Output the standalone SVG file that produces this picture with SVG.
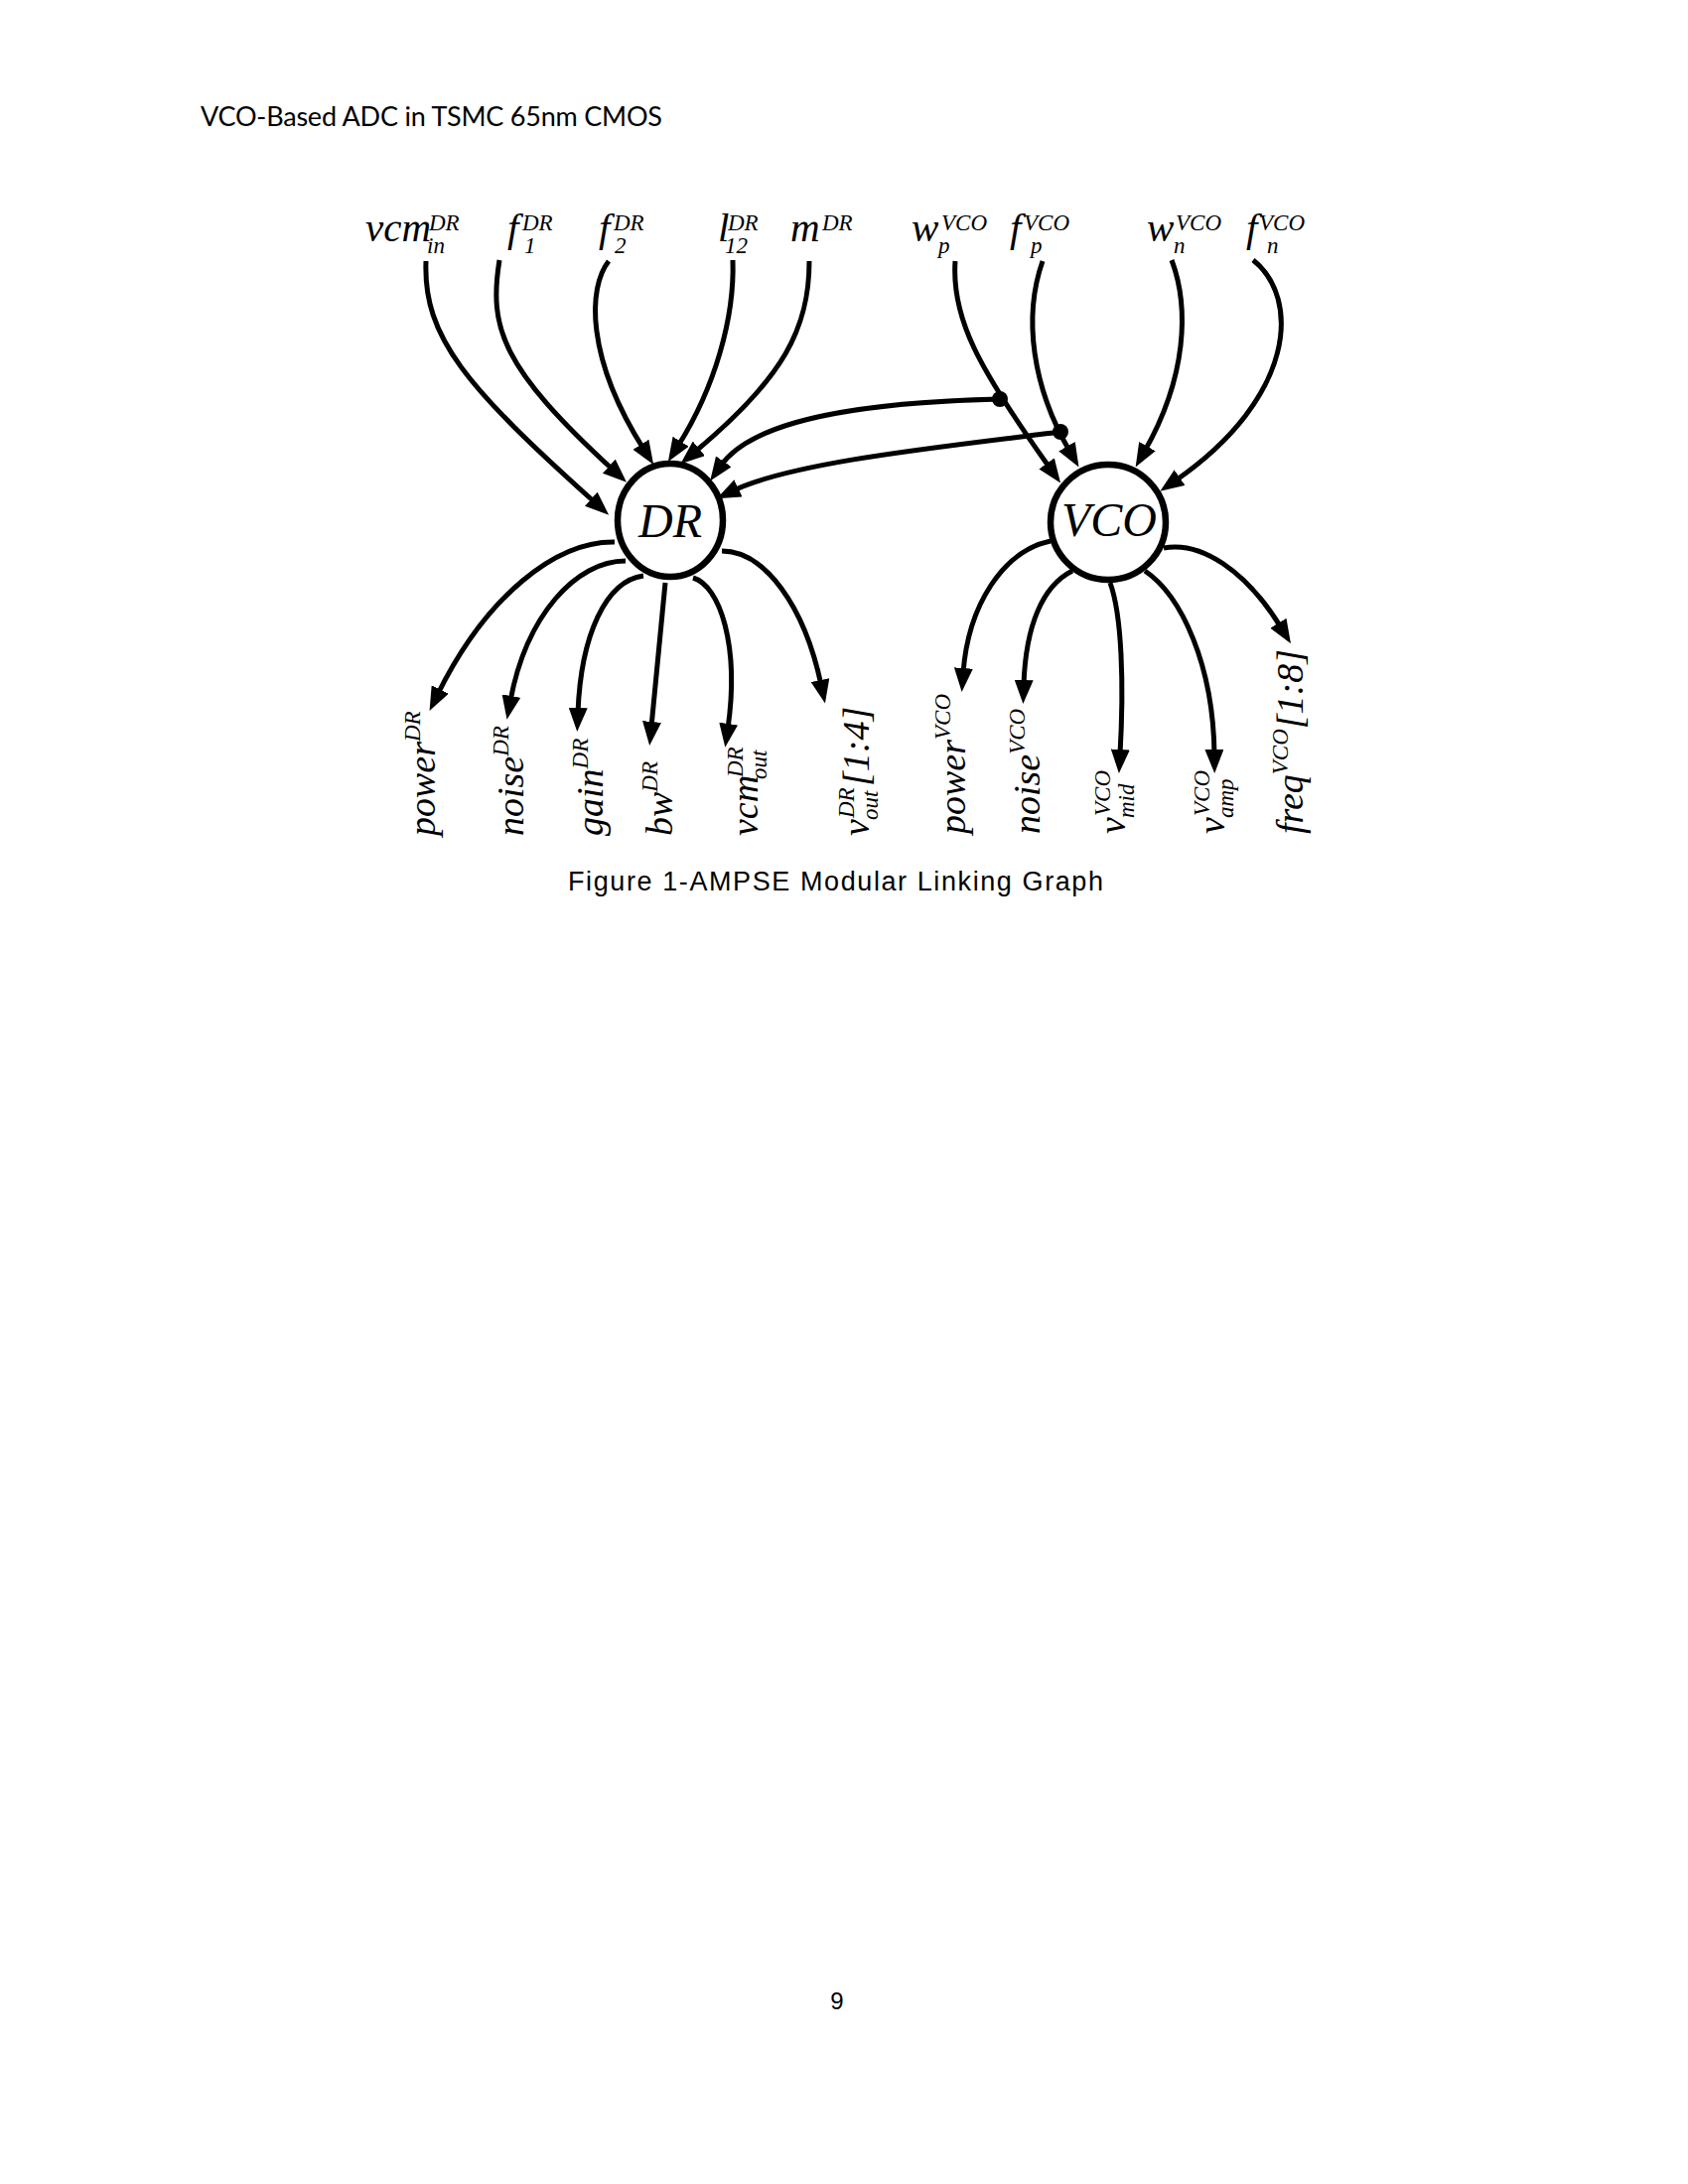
<svg xmlns="http://www.w3.org/2000/svg" width="1700" height="2200" viewBox="0 0 1700 2200">
<style>
.m{font-family:"Liberation Serif","DejaVu Serif",serif;font-style:italic;font-size:41px;fill:#000}
.s{font-family:"Liberation Serif","DejaVu Serif",serif;font-style:italic;font-size:23px;fill:#000}
.r{font-family:"Liberation Serif","DejaVu Serif",serif;font-style:italic;font-size:38px;fill:#000}
.n{font-family:"Liberation Serif","DejaVu Serif",serif;font-style:italic;font-size:48px;fill:#000}
.edge{fill:none;stroke:#000;stroke-width:5;marker-end:url(#ah)}
.node{fill:#fff;stroke:#000;stroke-width:6.5}
</style>
<defs>
<marker id="ah" viewBox="0 0 24 19" refX="5" refY="9.5" markerWidth="24" markerHeight="19" markerUnits="userSpaceOnUse" orient="auto">
<path d="M0,0 L24,9.5 L0,19 z" fill="#000"/>
</marker>
</defs>
<rect width="1700" height="2200" fill="#fff"/>
<text x="202" y="127" font-family="Lato,'Open Sans',sans-serif" font-size="27" textLength="465" fill="#000">VCO-Based ADC in TSMC 65nm CMOS</text>

<g id="connectors">
<path class="edge" d="M429,263 C426,340 470,390 599,506"/>
<path class="edge" d="M503,262 C492,330 505,370 617,473"/>
<path class="edge" d="M613,263 C592,290 590,360 648,452"/>
<path class="edge" d="M738,262 C740,320 720,390 683,449"/>
<path class="edge" d="M815,263 C815,330 790,380 700,455"/>
<path class="edge" d="M1007,402 C880,405 760,420 726,469"/>
<path class="edge" d="M1068,435 C950,450 800,465 739,494"/>
<path class="edge" d="M962,263 C958,320 985,370 1057,471"/>
<path class="edge" d="M1050,263 C1030,320 1040,390 1077,454"/>
<path class="edge" d="M1180,262 C1198,310 1195,380 1153,454"/>
<path class="edge" d="M1262,262 C1310,300 1305,400 1184,484"/>
<path class="edge" d="M619,546 C560,545 490,600 441,699"/>
<path class="edge" d="M630,565 C580,565 530,620 514,706"/>
<path class="edge" d="M648,580 C610,585 585,640 582,718"/>
<path class="edge" d="M670,587 L656,732"/>
<path class="edge" d="M698,582 C725,590 745,650 733,734"/>
<path class="edge" d="M727,555 C770,555 810,610 827,690"/>
<path class="edge" d="M1058,545 C1010,555 975,610 970,678"/>
<path class="edge" d="M1080,575 C1050,590 1033,630 1031,690"/>
<path class="edge" d="M1118,587 C1130,620 1132,690 1128,760"/>
<path class="edge" d="M1153,575 C1190,600 1222,670 1223,760"/>
<path class="edge" d="M1172,552 C1210,545 1255,575 1290,632"/>
<circle cx="1007" cy="402" r="8" fill="#000"/>
<circle cx="1068" cy="435" r="8" fill="#000"/>
</g>

<g id="DR"><ellipse class="node" cx="675" cy="524" rx="53" ry="57"/><text class="n" x="675" y="541" text-anchor="middle">DR</text></g>
<g id="VCO"><circle class="node" cx="1116" cy="526" r="58"/><text class="n" x="1117" y="540" text-anchor="middle" font-size="41">VCO</text></g>

<g id="in_vcm"><text class="m" x="368" y="243">vcm</text><text class="s" x="432" y="232">DR</text><text class="s" x="430" y="255">in</text></g>
<g id="in_f1"><text class="m" x="511" y="243">f</text><text class="s" x="526" y="232">DR</text><text class="s" x="528" y="255">1</text></g>
<g id="in_f2"><text class="m" x="603" y="243">f</text><text class="s" x="618" y="232">DR</text><text class="s" x="619" y="255">2</text></g>
<g id="in_l12"><text class="m" x="723" y="243">l</text><text class="s" x="733" y="232">DR</text><text class="s" x="730" y="255">12</text></g>
<g id="in_m"><text class="m" x="796" y="243">m</text><text class="s" x="828" y="232">DR</text></g>
<g id="in_wp"><text class="m" x="918" y="243">w</text><text class="s" x="948" y="232">VCO</text><text class="s" x="945" y="255">p</text></g>
<g id="in_fp"><text class="m" x="1017" y="243">f</text><text class="s" x="1031" y="232">VCO</text><text class="s" x="1038" y="255">p</text></g>
<g id="in_wn"><text class="m" x="1155" y="243">w</text><text class="s" x="1184" y="232">VCO</text><text class="s" x="1182" y="255">n</text></g>
<g id="in_fn"><text class="m" x="1255" y="243">f</text><text class="s" x="1268" y="232">VCO</text><text class="s" x="1276" y="255">n</text></g>

<g id="out_powerDR" transform="translate(438,842) rotate(-90)"><text class="r" x="0" y="0">power<tspan class="s" dy="-15">DR</tspan></text></g>
<g id="out_noiseDR" transform="translate(527,842) rotate(-90)"><text class="r" x="0" y="0">noise<tspan class="s" dy="-15">DR</tspan></text></g>
<g id="out_gainDR" transform="translate(607,842) rotate(-90)"><text class="r" x="0" y="0">gain<tspan class="s" dy="-15">DR</tspan></text></g>
<g id="out_bwDR" transform="translate(677,842) rotate(-90)"><text class="r" x="0" y="0">bw<tspan class="s" dy="-15">DR</tspan></text></g>
<g id="out_vcmout" transform="translate(763,842) rotate(-90)"><text class="r" x="0" y="0">vcm</text><text class="s" x="59" y="-15">DR</text><text class="s" x="57" y="9">out</text></g>
<g id="out_vout" transform="translate(875,842) rotate(-90)"><text class="r" x="0" y="0">v</text><text class="s" x="18" y="-15">DR</text><text class="s" x="16" y="9">out</text><text class="r" x="50" y="0">[1:4]</text></g>

<g id="out_powerVCO" transform="translate(972,840) rotate(-90)"><text class="r" x="0" y="0">power<tspan class="s" dy="-15">VCO</tspan></text></g>
<g id="out_noiseVCO" transform="translate(1047,840) rotate(-90)"><text class="r" x="0" y="0">noise<tspan class="s" dy="-15">VCO</tspan></text></g>
<g id="out_vmid" transform="translate(1133,840) rotate(-90)"><text class="r" x="0" y="0">v</text><text class="s" x="18" y="-15">VCO</text><text class="s" x="16" y="9">mid</text></g>
<g id="out_vamp" transform="translate(1233,840) rotate(-90)"><text class="r" x="0" y="0">v</text><text class="s" x="18" y="-15">VCO</text><text class="s" x="16" y="9">amp</text></g>
<g id="out_freq" transform="translate(1312,840) rotate(-90)"><text class="r" x="0" y="0">freq<tspan class="s" dy="-15">VCO</tspan><tspan dy="15">[1:8]</tspan></text></g>

<text x="572" y="897" font-family="'Liberation Sans',Arial,sans-serif" font-size="27" textLength="539" fill="#000">Figure 1-AMPSE Modular Linking Graph</text>
<text x="843" y="2024" font-family="'Liberation Sans',Arial,sans-serif" font-size="24" text-anchor="middle" fill="#000">9</text>
</svg>
